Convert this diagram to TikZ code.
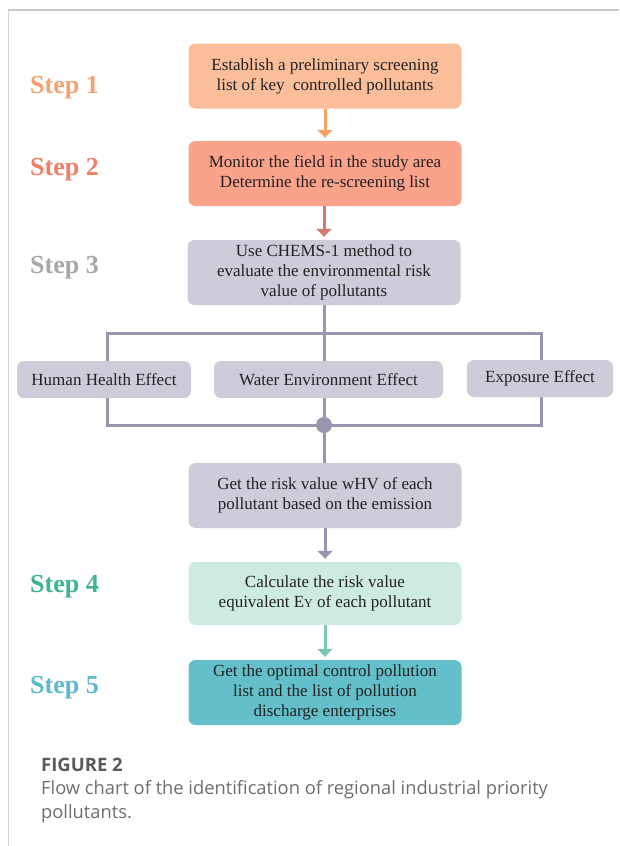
\documentclass[tikz,border=0pt]{standalone}
\usepackage{fontspec}
\setmainfont{Liberation Serif}
\newfontfamily\capfont{Open Sans}
\usetikzlibrary{arrows.meta,backgrounds}
\definecolor{cA}{HTML}{FBBE9B}
\definecolor{cAt}{HTML}{F5A272}
\definecolor{cAa}{HTML}{F7A266}
\definecolor{cB}{HTML}{FAA28A}
\definecolor{cBt}{HTML}{F27E68}
\definecolor{cBa}{HTML}{D27B6C}
\definecolor{cG}{HTML}{CDCCD9}
\definecolor{cGt}{HTML}{A8A8A8}
\definecolor{cGl}{HTML}{9896AE}
\definecolor{cD}{HTML}{CDEBE1}
\definecolor{cDt}{HTML}{3DB58F}
\definecolor{cDa}{HTML}{7DC9AE}
\definecolor{cE}{HTML}{63BFCA}
\definecolor{cEt}{HTML}{5CBACB}
\definecolor{txt}{HTML}{222222}
\definecolor{capc}{HTML}{6E6E6E}
\definecolor{capb}{HTML}{5A5A5A}
\definecolor{frame}{HTML}{C8C8C8}
\tikzset{
  box/.style={rounded corners=7pt, inner sep=0pt, minimum width=273pt, minimum height=65pt,
    align=center, text=txt, font=\fontsize{17}{20}\selectfont},
  effbox/.style={box, fill=cG, minimum height=37pt},
  steplabel/.style={anchor=base west, inner sep=0pt, font=\fontsize{26}{30}\selectfont\bfseries},
  flow/.style={line width=3pt, -{Triangle[width=15pt,length=8pt]}, shorten >=3pt},
  branch/.style={line width=3pt, draw=cGl},
  captext/.style={anchor=base west, inner sep=0pt, text=capc, font=\capfont\fontsize{18.3}{24}\selectfont},
}
\begin{document}
\begin{tikzpicture}[x=1pt,y=-1pt]
\useasboundingbox (0,0) rectangle (619,846);
% frame
\draw[frame, line width=1.5pt] (8,10) -- (619,10);
\draw[frame!80, line width=1pt] (8,10) -- (8,846);

% steps
\node[steplabel, text=cAt] (s1) at (30,93) {Step 1};
\node[steplabel, text=cBt] (s2) at (30,175) {Step 2};
\node[steplabel, text=cGt] (s3) at (30,273) {Step 3};
\node[steplabel, text=cDt] (s4) at (30,592) {Step 4};
\node[steplabel, text=cEt] (s5) at (30,693) {Step 5};

% boxes
\node[box, fill=cA] (b1) at (325,76) {Establish a preliminary screening\\list of key\ \ controlled pollutants};
\node[box, fill=cB] (b2) at (325,173.5) {Monitor the field in the study area\\Determine the re-screening list};
\node[box, fill=cG] (b3) at (324,272.5) {Use CHEMS-1 method to\\evaluate the environmental risk\\value of pollutants};
\node[effbox, minimum width=174pt] (hh) at (104,379.5) {Human Health Effect};
\node[effbox, minimum width=229pt] (we) at (328.5,379.5) {Water Environment Effect};
\node[effbox, minimum width=146pt] (ex) at (540,378.5) {Exposure Effect};
\node[box, fill=cG] (whv) at (325,495.5) {Get the risk value wHV of each\\pollutant based on the emission};
\node[box, fill=cD, minimum height=63pt] (b4) at (325,593.5) {Calculate the risk value\\equivalent E{\fontsize{12}{14}\selectfont Y} of each pollutant};
\node[box, fill=cE] (b5) at (325,692.5) {Get the optimal control pollution\\list and the list of pollution\\discharge enterprises};

% branch structure
\coordinate (tl) at (107,333);
\coordinate (tr) at (541,333);
\coordinate (bl) at (107,425);
\coordinate (br) at (541,425);
\node[circle, fill=cGl, minimum size=16pt, inner sep=0pt] (dot) at (324,425) {};

\begin{pgfonlayer}{background}
\fill[white] (0,0) rectangle (619,846);
\draw[branch] (tl) -- (tr) -- (br) -- (bl) -- cycle;
\draw[branch] (b3.south) -- (dot.center);
\draw[branch] (dot.center) -- (dot.center |- whv.north);
\end{pgfonlayer}

% arrows
\draw[flow, cAa] (b1.south) -- (b2.north);
\draw[flow, cBa] (b2.south -| b3.north) -- (b3.north);
\draw[flow, cGl] (whv.south) -- (b4.north);
\draw[flow, cDa] (b4.south) -- (b5.north);

% caption
\node[anchor=base west, inner sep=0pt, text=capb, font=\capfont\bfseries\fontsize{18.5}{22}\selectfont] (fig) at (41,771) {FIGURE 2};
\node[captext] (cap1) at (41,794) {Flow chart of the identification of regional industrial priority};
\node[captext] (cap2) at (41,818) {pollutants.};
\end{tikzpicture}
\end{document}
